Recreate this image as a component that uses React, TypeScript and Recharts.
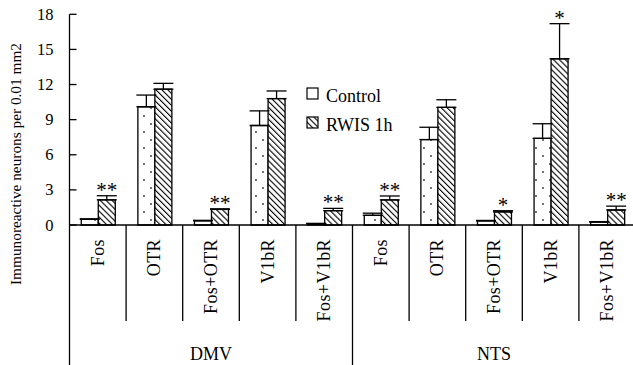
import React from 'react';
import { BarChart, Bar, XAxis, YAxis, ErrorBar, LabelList } from 'recharts';

const categories = ['Fos', 'OTR', 'Fos+OTR', 'V1bR', 'Fos+V1bR', 'Fos', 'OTR', 'Fos+OTR', 'V1bR', 'Fos+V1bR'];
const groupLabels = ['DMV', 'NTS'];
const groupCenterIndex = [2, 7];
const controlValues = [0.48, 10.1, 0.36, 8.5, 0.1, 0.83, 7.3, 0.35, 7.4, 0.25];
const controlErrors = [0.05, 1.0, 0.04, 1.25, 0.04, 0.18, 1.05, 0.04, 1.25, 0.04];
const rwisValues = [2.15, 11.6, 1.33, 10.8, 1.22, 2.14, 10.05, 1.12, 14.2, 1.28];
const rwisErrors = [0.35, 0.5, 0.05, 0.65, 0.2, 0.34, 0.65, 0.1, 3.0, 0.33];
const significance = ['**', '', '**', '', '**', '**', '', '*', '*', '**'];
const yTicks = [0, 3, 6, 9, 12, 15, 18];
const seriesNames = ['Control', 'RWIS 1h'];
const yLabel = 'Immunoreactive neurons per 0.01 mm2';

const data = categories.map((name, i) => ({
  name,
  control: controlValues[i],
  rwis: rwisValues[i],
  cErr: [0, controlErrors[i]],
  rErr: [0, rwisErrors[i]],
}));

const FONT = '"Liberation Serif", "Times New Roman", serif';
const CHART_W = 640;
const CHART_H = 365;
const Y_AXIS_W = 69.5;
const MARGIN = { top: 14.3, right: 4.5, bottom: 0, left: 0 };
const X_AXIS_H = 140;
const CAT_W = (CHART_W - MARGIN.left - MARGIN.right - Y_AXIS_W) / categories.length;
const AXIS_Y = CHART_H - X_AXIS_H;

const XTick = (props: any) => {
  const { x, payload } = props;
  const i = payload.index;
  const labelTop = AXIS_Y + 14;
  const gi = groupCenterIndex.indexOf(i);
  return (
    <g>
      <text
        x={x}
        y={labelTop}
        transform={`rotate(-90, ${x}, ${labelTop})`}
        textAnchor="end"
        dominantBaseline="central"
        fontSize={18}
        letterSpacing={0.4}
        fontFamily={FONT}
        fill="#000"
      >
        {payload.value}
      </text>
      {i === 0 && (
        <line x1={x - CAT_W / 2} x2={x - CAT_W / 2} y1={AXIS_Y} y2={CHART_H} stroke="#000" strokeWidth={1.3} />
      )}
      {i < categories.length - 1 && (
        <line
          x1={x + CAT_W / 2}
          x2={x + CAT_W / 2}
          y1={AXIS_Y}
          y2={i === 4 ? CHART_H : AXIS_Y + 96}
          stroke="#000"
          strokeWidth={1.3}
        />
      )}
      {gi >= 0 && (
        <text x={x} y={AXIS_Y + 135} textAnchor="middle" fontSize={18} fontFamily={FONT} fill="#000">
          {groupLabels[gi]}
        </text>
      )}
    </g>
  );
};

const YTick = (props: any) => {
  const { x, y, payload } = props;
  return (
    <g>
      <text x={x - 16} y={y} textAnchor="end" dominantBaseline="central" fontSize={16.5} fontFamily={FONT} fill="#000">
        {payload.value}
      </text>
      <line x1={x} x2={x + 7} y1={y} y2={y} stroke="#000" strokeWidth={1.3} />
    </g>
  );
};

const StarLabel = (props: any) => {
  const { x, y, width, height, index } = props;
  const s = significance[index];
  if (!s) return null;
  const v = rwisValues[index];
  const pxPerUnit = height / v;
  const errTop = y - rwisErrors[index] * pxPerUnit;
  return (
    <text x={x + width / 2} y={errTop + 1} textAnchor="middle" fontSize={21} fontFamily={FONT} fill="#000">
      {s}
    </text>
  );
};

const Patterns = ({ prefix }: { prefix: string }) => (
  <defs>
    <pattern id={`${prefix}dots`} patternUnits="userSpaceOnUse" width={14} height={16}>
      <rect width={14} height={16} fill="#fff" />
      <circle cx={4} cy={4} r={0.9} fill="#333" />
      <circle cx={11} cy={12} r={0.9} fill="#333" />
    </pattern>
    <pattern id={`${prefix}hatch`} patternUnits="userSpaceOnUse" width={4.2} height={4.2} patternTransform="rotate(-45)">
      <rect width={4.2} height={4.2} fill="#fff" />
      <line x1={0} y1={0} x2={0} y2={4.2} stroke="#000" strokeWidth={2.2} />
    </pattern>
  </defs>
);

export default function App() {
  return (
    <div style={{ position: 'absolute', left: 0, top: 0, width: 633, height: 365, overflow: 'hidden', background: '#fff' }}>
      <BarChart
        width={CHART_W}
        height={CHART_H}
        data={data}
        margin={MARGIN}
        barGap={0}
        barCategoryGap="20.8%"
      >
        <Patterns prefix="c" />
        <XAxis
          dataKey="name"
          height={X_AXIS_H}
          interval={0}
          tickSize={0}
          tickMargin={0}
          tickLine={false}
          axisLine={{ stroke: '#000', strokeWidth: 1.3 }}
          tick={XTick}
        />
        <YAxis
          domain={[0, 18]}
          ticks={yTicks}
          width={Y_AXIS_W}
          tickSize={0}
          tickMargin={0}
          tickLine={false}
          axisLine={{ stroke: '#000', strokeWidth: 1.3 }}
          tick={YTick}
          interval={0}
        />
        <Bar dataKey="control" fill="url(#cdots)" stroke="#000" strokeWidth={1.3} isAnimationActive={false}>
          <ErrorBar dataKey="cErr" width={10} stroke="#000" strokeWidth={1.3} direction="y" />
        </Bar>
        <Bar dataKey="rwis" fill="url(#chatch)" stroke="#000" strokeWidth={1.3} isAnimationActive={false}>
          <ErrorBar dataKey="rErr" width={10} stroke="#000" strokeWidth={1.3} direction="y" />
          <LabelList dataKey="rwis" content={StarLabel} />
        </Bar>
      </BarChart>
      <svg
        width={633}
        height={365}
        style={{ position: 'absolute', left: 0, top: 0, pointerEvents: 'none' }}
      >
        <Patterns prefix="l" />
        <text
          x={20.5}
          y={164}
          transform="rotate(-90, 20.5, 164)"
          textAnchor="middle"
          fontSize={15}
          fontFamily={FONT}
          fill="#000"
          textLength={242}
          lengthAdjust="spacingAndGlyphs"
        >
          {yLabel}
        </text>
        <rect x={307} y={88} width={11} height={11} fill="url(#ldots)" stroke="#000" strokeWidth={1.2} />
        <text x={326} y={102} fontSize={18} fontFamily={FONT} fill="#000">{seriesNames[0]}</text>
        <rect x={307} y={117} width={11} height={11} fill="url(#lhatch)" stroke="#000" strokeWidth={1.2} />
        <text x={326} y={131} fontSize={18} fontFamily={FONT} fill="#000">{seriesNames[1]}</text>
      </svg>
    </div>
  );
}
